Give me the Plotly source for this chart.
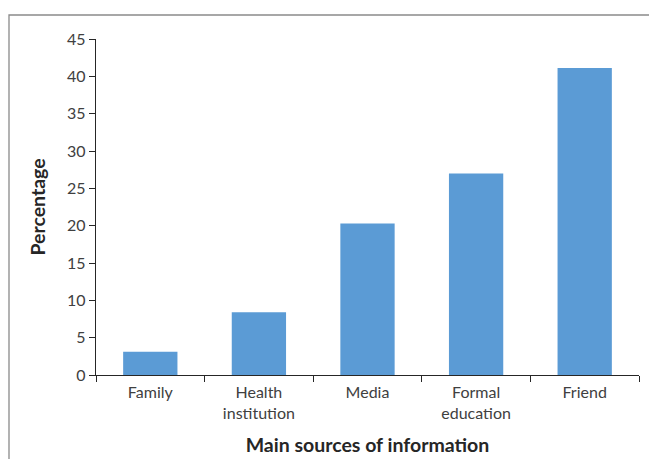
import plotly.graph_objects as go

categories = ["Family", "Health<br>institution", "Media", "Formal<br>education", "Friend"]
values = [3.1, 8.4, 20.3, 27.0, 41.1]
y_ticks = [0, 5, 10, 15, 20, 25, 30, 35, 40, 45]

fig = go.Figure(go.Bar(x=categories, y=values, marker=dict(color="#5B9BD5", line=dict(width=0)), width=0.5))

W, H = 649, 459
ml, mr, mt, mb = 96, 10, 39, 84
pw, ph = W - ml - mr, H - mt - mb

fig.update_layout(
    width=W, height=H,
    margin=dict(l=ml, r=mr, t=mt, b=mb),
    paper_bgcolor="white", plot_bgcolor="white",
    font=dict(family="Lato", color="#404040"),
    showlegend=False,
    bargap=0.5,
)
fig.update_xaxes(
    automargin=False,
    showline=True, linecolor="#262626", linewidth=1.3,
    ticks="outside", tickson="boundaries", ticklen=6, tickcolor="#262626",
    tickfont=dict(size=16, color="#404040"), ticklabelstandoff=3,
    title=dict(text="<b>Main sources of information</b>", font=dict(size=19.5, color="#262626"), standoff=17),
    showgrid=False,
)
fig.update_yaxes(
    automargin=False,
    range=[0, 45], tickvals=y_ticks,
    showline=True, linecolor="#262626", linewidth=1.3,
    ticks="outside", ticklen=6, tickcolor="#262626",
    tickfont=dict(size=16, color="#404040"),
    title=dict(text="<b>Percentage</b>", font=dict(size=19.5, color="#262626"), standoff=16),
    showgrid=False, zeroline=False,
)
# outer frame (partially cut off at right/bottom like the reference)
fig.add_shape(type="rect", xref="paper", yref="paper",
              x0=(9 - ml) / pw, x1=1.2, y0=-0.4, y1=(H - mb - 15) / ph,
              line=dict(color="#8a8a8a", width=1.3), layer="below")

fig.write_html("out.html")
